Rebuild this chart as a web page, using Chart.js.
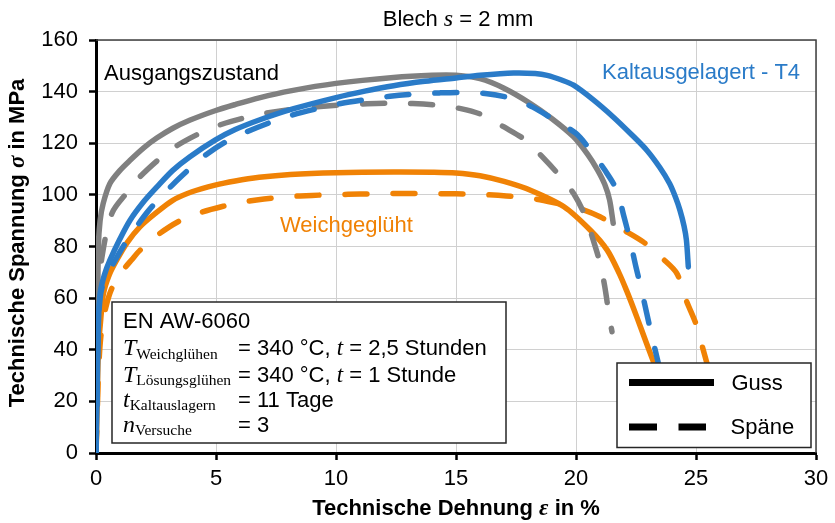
<!DOCTYPE html>
<html>
<head>
<meta charset="utf-8">
<script src="https://cdn.jsdelivr.net/npm/chart.js@4.4.1/dist/chart.umd.min.js"></script>
<style>
  html, body { margin: 0; padding: 0; background: #fff; }
  #wrap { width: 835px; height: 523px; position: relative; }
</style>
</head>
<body>
<div id="wrap"><canvas id="c"></canvas></div>
<script>
// ---------- data ----------
const xTicks = [0, 5, 10, 15, 20, 25, 30];
const yTicks = [0, 20, 40, 60, 80, 100, 120, 140, 160];

// Ausgangszustand (grey)
const ausgangGussX = [0, 0.05, 0.1, 0.17, 0.3, 0.58, 1.0, 1.42, 2, 2.53, 3.2, 3.9, 4.96, 5.8, 6.8, 8.1, 10, 12.4, 14, 15, 16, 17, 18.1, 19, 19.9, 20.5, 20.9, 21.2, 21.4, 21.55];
const ausgangGussY = [0, 40, 80, 90, 96.7, 104.4, 109.5, 113.4, 118.3, 122, 125.8, 128.9, 132.6, 135, 137.6, 140.3, 143.2, 145.5, 146.3, 146.3, 145, 141.3, 135.4, 129.5, 122.5, 115.5, 109.6, 104, 98, 89];
const ausgangSpaeneX = [0, 0.05, 0.1, 0.25, 0.67, 1.3, 1.83, 2.67, 3.36, 4.2, 4.9, 5.6, 7, 8.5, 10.2, 11.3, 12.2, 13.2, 14.2, 15.2, 16.1, 17, 17.9, 18.6, 19.3, 19.9, 20.4, 20.7, 21, 21.2, 21.4, 21.5];
const ausgangSpaeneY = [0, 30, 60, 76, 93, 101, 107, 114.2, 119, 123.3, 126.2, 128.4, 131.5, 133.5, 134.8, 135.3, 135.5, 135.4, 134.8, 133.4, 131, 126.3, 121.2, 114.7, 107.6, 100.5, 91.5, 83, 73.6, 64.4, 52, 47];

// Kaltausgelagert - T4 (blue)
const t4GussX = [0, 0.05, 0.1, 0.17, 0.35, 0.58, 1, 1.42, 2, 2.53, 3.2, 3.9, 4.96, 5.8, 6.8, 8.2, 10, 11.2, 12.4, 13.7, 15, 16, 17.4, 18.3, 18.8, 19.4, 19.9, 20.7, 21.55, 22.3, 22.95, 23.5, 23.9, 24.15, 24.33, 24.5, 24.6, 24.68];
const t4GussY = [0, 25, 50, 61.8, 69, 74.7, 83, 90.2, 97.5, 103, 109.5, 114.7, 121.2, 125.3, 129, 133.3, 137.7, 140.2, 142.3, 144, 145.3, 146.3, 147.2, 147, 146.3, 144.5, 142.5, 137, 130.2, 123.5, 117.3, 110.5, 104.4, 99, 94.1, 88, 82.5, 72.1];
const t4SpaeneX = [0, 0.05, 0.1, 0.2, 0.4, 0.7, 1.1, 1.6, 2.2, 3.2, 4, 4.5, 5.4, 6.3, 7.3, 8.2, 9.25, 10.2, 11.3, 12.25, 13.2, 14.3, 15.3, 16.3, 17.25, 18.2, 19.1, 20, 20.6, 21.2, 21.7, 22, 22.25, 22.5, 22.7, 22.95, 23.15, 23.4, 23.7, 24];
const t4SpaeneY = [0, 25, 50, 62, 68, 73, 79.5, 86.5, 94, 104, 111, 115, 120.5, 124.5, 128.2, 131, 133.5, 135.4, 137, 138.2, 139, 139.5, 139.7, 139.2, 137.5, 134, 129, 123.8, 117.3, 109.6, 101.8, 91.5, 82.5, 72, 64.4, 54, 45.7, 36, 24, 12];

// Weichgeglüht (orange)
const weichGussX = [0, 0.05, 0.1, 0.2, 0.31, 0.55, 0.86, 1.3, 1.83, 2.5, 3.2, 4, 4.96, 5.8, 6.8, 8.1, 10, 12.4, 14, 15, 16, 17, 18.1, 19.5, 20.6, 21.3, 21.8, 22.1, 22.4, 22.7, 23.2, 23.6, 24];
const weichGussY = [0, 20, 40, 52, 61.8, 69, 74.7, 81.5, 87.6, 93, 97.9, 101.2, 103.8, 105.4, 106.8, 107.9, 108.6, 108.9, 108.8, 108.5, 107.4, 105.2, 101.8, 95.4, 86.3, 78.6, 69.6, 63.1, 56, 48.5, 36, 26.5, 17];
const weichSpaeneX = [0, 0.05, 0.1, 0.2, 0.4, 0.67, 1.1, 1.5, 1.83, 2.5, 3.4, 4.3, 5.3, 6.1, 7, 8, 9, 10, 11, 12, 13, 14, 15, 16, 17.1, 18.1, 19.05, 20.2, 21, 22, 22.8, 23.6, 24.2, 24.6, 25, 25.3, 25.6, 25.9];
const weichSpaeneY = [0, 15, 30, 45, 56, 64, 70.5, 75, 78.5, 84, 89.5, 93, 95.6, 97.2, 98.4, 99.3, 99.8, 100.1, 100.3, 100.5, 100.5, 100.5, 100.4, 100.2, 99.6, 98.7, 97, 94.5, 91.5, 86.3, 81.8, 75.4, 69.6, 59, 50, 40, 30, 20];

// ---------- styling ----------
const GRAY = '#808080';
const BLUE = '#2A7BC8';
const ORANGE = '#F08205';
const SANS = '"Liberation Sans", Arial, sans-serif';
const SERIF = '"Liberation Serif", "Times New Roman", serif';
const FS = 22;

function pts(xs, ys) { return xs.map((x, i) => ({ x: x, y: ys[i] })); }
function ds(label, xs, ys, color, dashed) {
  return {
    label: label,
    data: pts(xs, ys),
    showLine: true,
    borderColor: color,
    backgroundColor: color,
    borderWidth: 5.5,
    borderDash: dashed ? [22, 26] : [],
    borderCapStyle: 'round',
    borderJoinStyle: 'round',
    pointRadius: 0,
    pointHoverRadius: 0,
    tension: 0.3,
    fill: false
  };
}

function drawParts(ctx, parts, x, y, align) {
  let total = 0;
  parts.forEach(p => { ctx.font = p.font; p.w = ctx.measureText(p.text).width; total += p.w; });
  let cx = align === 'center' ? x - total / 2 : (align === 'right' ? x - total : x);
  ctx.textAlign = 'left';
  ctx.textBaseline = 'alphabetic';
  parts.forEach(p => { ctx.font = p.font; ctx.fillText(p.text, cx, y + (p.dy || 0)); cx += p.w; });
}

const overlay = {
  id: 'overlay',
  beforeDatasetsDraw(chart) {
    const ctx = chart.ctx, a = chart.chartArea;
    ctx.save();
    ctx.strokeStyle = '#404040';
    ctx.lineWidth = 1.5;
    ctx.beginPath();
    ctx.moveTo(a.left, a.top); ctx.lineTo(a.right, a.top); ctx.lineTo(a.right, a.bottom);
    ctx.stroke();
    ctx.restore();
  },
  afterDatasetsDraw(chart) {
    const ctx = chart.ctx;
    ctx.save();
    const sans = FS + 'px ' + SANS;
    const boldSans = 'bold ' + FS + 'px ' + SANS;
    const it = 'italic 24px ' + SERIF;
    const itSmall = 'italic 23px ' + SERIF;
    const sub = '15.5px ' + SERIF;

    // title
    ctx.fillStyle = '#000';
    drawParts(ctx, [
      { text: 'Blech ', font: sans },
      { text: 's', font: it },
      { text: ' = 2 mm', font: sans }
    ], 458, 26, 'center');

    // x axis title
    drawParts(ctx, [
      { text: 'Technische Dehnung ', font: boldSans },
      { text: 'ε', font: 'italic bold 23px ' + SERIF },
      { text: ' in %', font: boldSans }
    ], 456, 515, 'center');

    // y axis title
    ctx.save();
    ctx.translate(24, 243);
    ctx.rotate(-Math.PI / 2);
    drawParts(ctx, [
      { text: 'Technische Spannung ', font: boldSans },
      { text: 'σ', font: 'italic bold 23px ' + SERIF },
      { text: ' in MPa', font: boldSans }
    ], 0, 0, 'center');
    ctx.restore();

    // curve annotations
    ctx.font = sans;
    ctx.textAlign = 'left';
    ctx.textBaseline = 'alphabetic';
    ctx.fillStyle = '#000';
    ctx.fillText('Ausgangszustand', 104, 80);
    ctx.fillStyle = BLUE;
    ctx.fillText('Kaltausgelagert - T4', 602, 79);
    ctx.fillStyle = ORANGE;
    ctx.fillText('Weichgeglüht', 280, 232);

    // info box
    ctx.fillStyle = '#fff';
    ctx.fillRect(112, 302, 394, 141);
    ctx.strokeStyle = '#262626';
    ctx.lineWidth = 1.5;
    ctx.strokeRect(112, 302, 394, 141);
    ctx.fillStyle = '#000';
    ctx.font = sans;
    ctx.fillText('EN AW-6060', 123, 328);
    const rows = [
      { sym: 'T', sub: 'Weichglühen', rest: [{ text: '= 340 °C, ', font: sans }, { text: 't', font: itSmall }, { text: ' = 2,5 Stunden', font: sans }], y: 355 },
      { sym: 'T', sub: 'Lösungsglühen', rest: [{ text: '= 340 °C, ', font: sans }, { text: 't', font: itSmall }, { text: ' = 1 Stunde', font: sans }], y: 381.5 },
      { sym: 't', sub: 'Kaltauslagern', rest: [{ text: '= 11 Tage', font: sans }], y: 406.5 },
      { sym: 'n', sub: 'Versuche', rest: [{ text: '= 3', font: sans }], y: 431.5 }
    ];
    rows.forEach(r => {
      drawParts(ctx, [{ text: r.sym, font: it }, { text: r.sub, font: sub, dy: 3.5 }], 123, r.y, 'left');
      drawParts(ctx, r.rest, 238, r.y, 'left');
    });

    // legend box
    ctx.fillStyle = '#fff';
    ctx.fillRect(617, 363, 194, 84.5);
    ctx.strokeStyle = '#262626';
    ctx.lineWidth = 1.5;
    ctx.strokeRect(617, 363, 194, 84.5);
    ctx.strokeStyle = '#000';
    ctx.lineWidth = 7;
    ctx.lineCap = 'butt';
    ctx.beginPath(); ctx.moveTo(629, 382.5); ctx.lineTo(714, 382.5); ctx.stroke();
    ctx.beginPath(); ctx.moveTo(629, 427); ctx.lineTo(657, 427); ctx.moveTo(678.5, 427); ctx.lineTo(706, 427); ctx.stroke();
    ctx.fillStyle = '#000';
    ctx.font = sans;
    ctx.fillText('Guss', 731.5, 390);
    ctx.fillText('Späne', 730.5, 434);
    ctx.restore();
  }
};

const datasets = [
  ds('Kaltausgelagert - T4 Guss', t4GussX, t4GussY, BLUE, false),
  ds('Kaltausgelagert - T4 Späne', t4SpaeneX, t4SpaeneY, BLUE, true),
  ds('Ausgangszustand Guss', ausgangGussX, ausgangGussY, GRAY, false),
  ds('Ausgangszustand Späne', ausgangSpaeneX, ausgangSpaeneY, GRAY, true),
  ds('Weichgeglüht Guss', weichGussX, weichGussY, ORANGE, false),
  ds('Weichgeglüht Späne', weichSpaeneX, weichSpaeneY, ORANGE, true)
];

new Chart(document.getElementById('c'), {
  type: 'scatter',
  data: { datasets: datasets },
  options: {
    responsive: true,
    maintainAspectRatio: false,
    devicePixelRatio: 1,
    animation: false,
    events: [],
    layout: { padding: { top: 40, right: 19, left: 0, bottom: 0 } },
    plugins: { legend: { display: false }, tooltip: { enabled: false }, title: { display: false } },
    scales: {
      x: {
        type: 'linear', min: 0, max: 30,
        afterBuildTicks: s => { s.ticks = xTicks.map(v => ({ value: v })); },
        afterFit: s => { s.height = 70; },
        ticks: { color: '#000', font: { family: SANS, size: FS }, padding: 6, maxRotation: 0, autoSkip: false },
        grid: { color: '#d0d0d0', lineWidth: 1, tickColor: '#000', tickLength: 7, tickWidth: 2.5 },
        border: { display: true, color: '#000', width: 3 }
      },
      y: {
        type: 'linear', min: 0, max: 160,
        afterBuildTicks: s => { s.ticks = yTicks.map(v => ({ value: v })); },
        afterFit: s => { s.width = 96; },
        ticks: { color: '#000', font: { family: SANS, size: FS }, padding: 11, autoSkip: false },
        grid: { color: '#d0d0d0', lineWidth: 1, tickColor: '#000', tickLength: 7, tickWidth: 2.5 },
        border: { display: true, color: '#000', width: 3 }
      }
    }
  },
  plugins: [overlay]
});
</script>
</body>
</html>
